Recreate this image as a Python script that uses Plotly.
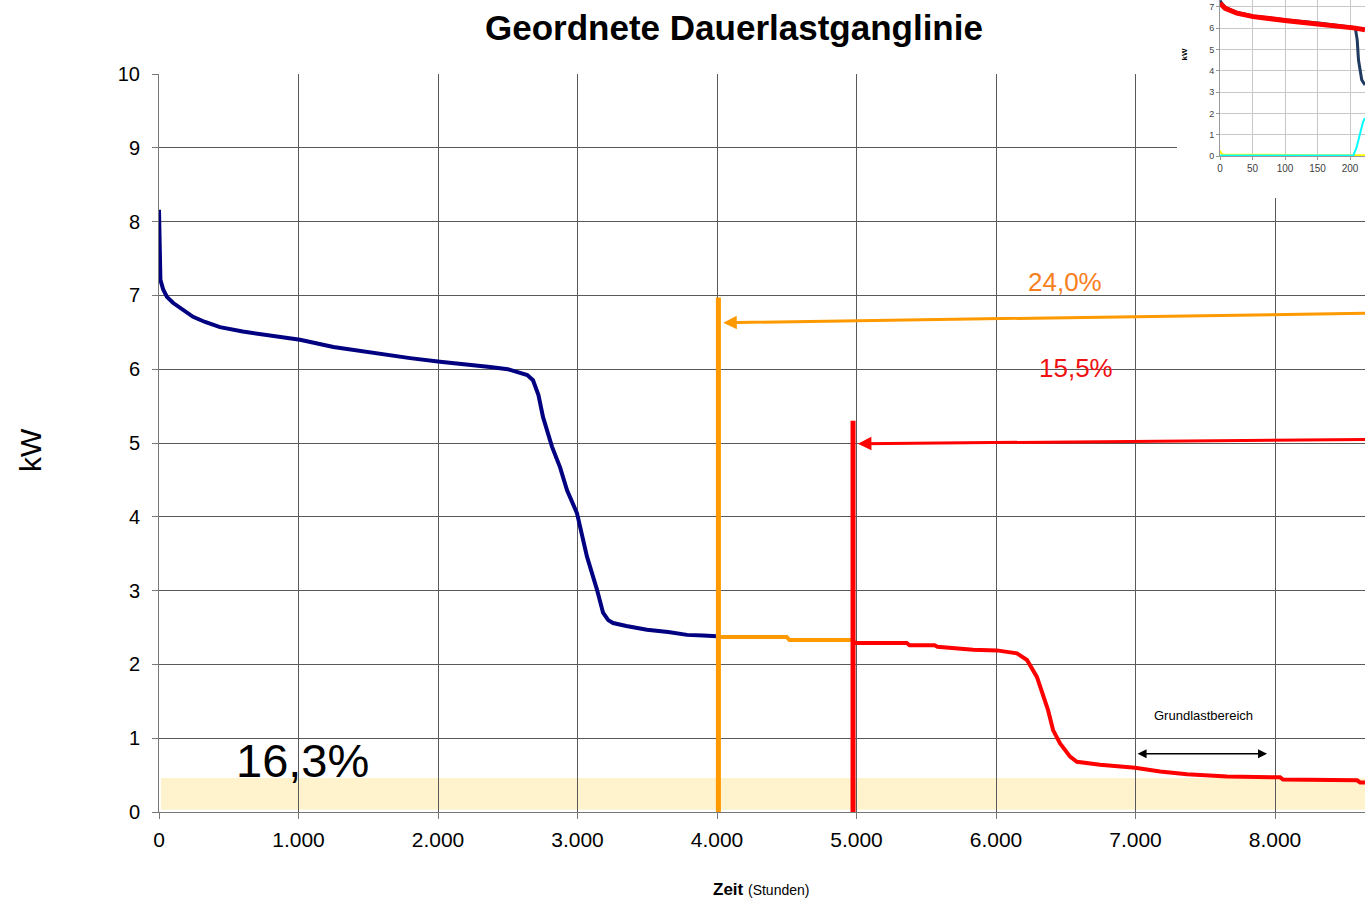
import plotly.graph_objects as go

# ---------------- data ----------------
navy_h = [0, 3, 10, 30, 57, 100, 170, 244, 330, 437, 600, 800, 1011, 1250, 1534, 1800,
          2014, 2200, 2373, 2500, 2588, 2640, 2681, 2720, 2753, 2817, 2875, 2925, 2996,
          3068, 3140, 3183, 3220, 3255, 3350, 3498, 3650, 3785, 3900, 4000]
navy_kw = [8.16, 7.6, 7.21, 7.08, 6.98, 6.90, 6.80, 6.71, 6.64, 6.57, 6.51, 6.46, 6.40,
           6.30, 6.22, 6.15, 6.10, 6.07, 6.03, 6.00, 5.95, 5.92, 5.85, 5.65, 5.35, 4.95,
           4.67, 4.36, 4.05, 3.46, 3.01, 2.70, 2.60, 2.56, 2.52, 2.47, 2.44, 2.40, 2.39, 2.38]

orange_h = [4000, 4020, 4500, 4520, 4970]
orange_kw = [2.38, 2.37, 2.37, 2.33, 2.33]

red_h = [4970, 4990, 5360, 5380, 5560, 5580, 5835, 6006, 6150, 6222, 6293, 6337, 6373,
         6409, 6459, 6531, 6580, 6746, 6997, 7176, 7369, 7656, 8036, 8058, 8588, 8610, 8645]
red_kw = [2.33, 2.29, 2.29, 2.26, 2.26, 2.24, 2.20, 2.19, 2.15, 2.06, 1.83, 1.56, 1.38,
          1.11, 0.93, 0.75, 0.68, 0.64, 0.60, 0.55, 0.51, 0.48, 0.47, 0.44, 0.43, 0.40, 0.40]

orange_mark_h = [4010, 4010]
orange_mark_kw = [0, 6.97]
red_mark_h = [4975, 4975]
red_mark_kw = [0, 5.30]

band_kw = [0.03, 0.46]          # Grundlast band
grund_h = [7004, 7943]          # Grundlastbereich arrow span
grund_kw = 0.79

x_ticks = [0, 1000, 2000, 3000, 4000, 5000, 6000, 7000, 8000]
y_ticks = list(range(0, 11))

labels = {"pct_base": "16,3%", "pct_orange": "24,0%", "pct_red": "15,5%"}

# inset data
ins_navy_x = [0, 3, 8, 26, 51, 103, 154, 195, 208, 211, 213, 218, 223]
ins_navy_y = [7.3, 7.15, 6.98, 6.74, 6.57, 6.38, 6.23, 6.10, 6.03, 5.45, 4.5, 3.57, 3.33]
ins_red_x = [0, 8, 26, 51, 103, 154, 195, 208, 223]
ins_red_y = [7.17, 6.93, 6.70, 6.54, 6.35, 6.20, 6.07, 6.0, 5.92]
ins_cyan_x = [0, 205, 210, 215, 220, 223]
ins_cyan_y = [0.02, 0.02, 0.4, 1.07, 1.6, 1.78]
ins_yel_x = [0, 2, 5, 30, 80, 150, 223]
ins_yel_y = [0.25, 0.12, 0.07, 0.06, 0.05, 0.04, 0.03]
ins_x_ticks = [0, 50, 100, 150, 200]
ins_y_ticks = [0, 1, 2, 3, 4, 5, 6, 7]

# ---------------- layout geometry ----------------
W, H = 1365, 901
ML, MR, MT, MB = 159, 0, 0, 89
PW, PH = W - ML - MR, H - MT - MB


def px_x(p):
    return (p - ML) / PW


def px_y(p):
    return (H - MB - p) / PH


FONT = "Arial, Liberation Sans, sans-serif"
NAVY = "#000080"
ORANGE = "#FF9900"
RED = "#FF0000"

fig = go.Figure()

# main series
fig.add_trace(go.Scatter(x=navy_h, y=navy_kw, mode="lines",
                         line=dict(color=NAVY, width=4), hoverinfo="skip"))
fig.add_trace(go.Scatter(x=orange_h, y=orange_kw, mode="lines",
                         line=dict(color=ORANGE, width=4), hoverinfo="skip"))
fig.add_trace(go.Scatter(x=red_h, y=red_kw, mode="lines",
                         line=dict(color=RED, width=4), hoverinfo="skip"))
fig.add_trace(go.Scatter(x=orange_mark_h, y=orange_mark_kw, mode="lines",
                         line=dict(color=ORANGE, width=5), hoverinfo="skip"))
fig.add_trace(go.Scatter(x=red_mark_h, y=red_mark_kw, mode="lines",
                         line=dict(color=RED, width=5), hoverinfo="skip"))

# cover subplot (white background for inset area)
fig.add_trace(go.Scatter(x=[], y=[], xaxis="x2", yaxis="y2", hoverinfo="skip"))

# inset traces
fig.add_trace(go.Scatter(x=ins_yel_x, y=ins_yel_y, xaxis="x3", yaxis="y3", mode="lines",
                         line=dict(color="#FFFF00", width=2), hoverinfo="skip"))
fig.add_trace(go.Scatter(x=ins_cyan_x, y=ins_cyan_y, xaxis="x3", yaxis="y3", mode="lines",
                         line=dict(color="#00FFFF", width=2), hoverinfo="skip"))
fig.add_trace(go.Scatter(x=ins_navy_x, y=ins_navy_y, xaxis="x3", yaxis="y3", mode="lines",
                         line=dict(color="#1F3A60", width=3), hoverinfo="skip"))
fig.add_trace(go.Scatter(x=ins_red_x, y=ins_red_y, xaxis="x3", yaxis="y3", mode="lines",
                         line=dict(color=RED, width=5), hoverinfo="skip"))

# band
fig.add_shape(type="rect", xref="x", yref="y", x0=14, x1=8700,
              y0=band_kw[0], y1=band_kw[1], fillcolor="#FEF3CD",
              line=dict(width=0), layer="below")

annotations = [
    # y-axis title
    dict(text="kW", xref="paper", yref="paper", x=px_x(30), y=px_y(450),
         textangle=-90, showarrow=False, font=dict(size=30, color="black", family=FONT),
         xanchor="center", yanchor="middle"),
    # x-axis title
    dict(text="<b>Zeit</b> <span style='font-size:14px'>(Stunden)</span>",
         xref="paper", yref="paper", x=px_x(761), y=px_y(889), showarrow=False,
         font=dict(size=17, color="black", family=FONT), xanchor="center", yanchor="middle"),
    # percentages
    dict(text=labels["pct_base"], x=1032, y=0.70, xref="x", yref="y", showarrow=False,
         font=dict(size=47, color="black", family=FONT)),
    dict(text=labels["pct_orange"], x=6495, y=7.18, xref="x", yref="y", showarrow=False,
         font=dict(size=26, color="#F7801E", family=FONT)),
    dict(text=labels["pct_red"], x=6573, y=6.02, xref="x", yref="y", showarrow=False,
         font=dict(size=26, color="#F01010", family=FONT)),
    dict(text="Grundlastbereich", x=7484, y=1.31, xref="x", yref="y", showarrow=False,
         font=dict(size=13, color="black", family=FONT)),
    # arrows
    dict(text="", x=4045, y=6.63, ax=8720, ay=6.76, xref="x", yref="y",
         axref="x", ayref="y", showarrow=True, arrowhead=2, arrowsize=0.9,
         arrowwidth=3, arrowcolor=ORANGE),
    dict(text="", x=5010, y=4.99, ax=8720, ay=5.05, xref="x", yref="y",
         axref="x", ayref="y", showarrow=True, arrowhead=2, arrowsize=0.9,
         arrowwidth=3, arrowcolor=RED),
    dict(text="", x=grund_h[1], y=grund_kw, ax=grund_h[0], ay=grund_kw, xref="x", yref="y",
         axref="x", ayref="y", showarrow=True, arrowhead=2, arrowside="end+start",
         arrowsize=1.2, arrowwidth=1.5, arrowcolor="black"),
    # inset kW
    dict(text="<b>kW</b>", xref="paper", yref="paper", x=px_x(1190), y=px_y(47),
         textangle=-90, showarrow=False, font=dict(size=8, color="black", family=FONT)),
]

GRID = "#595959"
fig.update_layout(
    width=W, height=H,
    margin=dict(l=ML, r=MR, t=MT, b=MB, pad=0, autoexpand=False),
    paper_bgcolor="white", plot_bgcolor="white",
    showlegend=False,
    separators=",.",
    font=dict(family=FONT, color="black"),
    title=dict(text="<b>Geordnete Dauerlastganglinie</b>", xref="container", yref="container",
               x=734 / W, y=1 - 28 / H, xanchor="center", yanchor="middle",
               font=dict(size=35, color="black", family=FONT)),
    xaxis=dict(range=[0, 8645], domain=[0, 1], tickvals=x_ticks, tickformat=",d",
               showgrid=True, gridcolor=GRID, gridwidth=1, zeroline=False,
               showline=True, linecolor="#777777", linewidth=1,
               ticks="outside", ticklen=6, tickcolor="#777777",
               ticklabelstandoff=3,
               tickfont=dict(size=21, color="black", family=FONT), anchor="y"),
    yaxis=dict(range=[0, 10], domain=[0, 738 / PH], tickvals=y_ticks,
               showgrid=True, gridcolor=GRID, gridwidth=1, zeroline=False,
               showline=True, linecolor="#777777", linewidth=1,
               ticks="outside", ticklen=6, tickcolor="#777777",
               ticklabelstandoff=8,
               tickfont=dict(size=20, color="black", family=FONT), anchor="x"),
    xaxis2=dict(domain=[px_x(1177), 1], range=[0, 1], visible=False, anchor="y2"),
    yaxis2=dict(domain=[px_y(198), 1], range=[0, 1], visible=False, anchor="x2"),
    xaxis3=dict(domain=[px_x(1220), 1], range=[0, 223], tickvals=ins_x_ticks,
                showgrid=True, gridcolor="#C8C8C8", zeroline=False,
                showline=True, linecolor="#999999", ticks="outside", ticklen=3,
                tickcolor="#999999", tickfont=dict(size=10, color="#404040", family=FONT),
                anchor="y3"),
    yaxis3=dict(domain=[px_y(156), 1], range=[0, 7.32], tickvals=ins_y_ticks,
                showgrid=True, gridcolor="#C8C8C8", zeroline=False,
                showline=True, linecolor="#999999", ticks="outside", ticklen=3,
                tickcolor="#999999", tickfont=dict(size=9, color="#404040", family=FONT),
                anchor="x3"),
    annotations=annotations,
)

fig.write_html("out.html")
